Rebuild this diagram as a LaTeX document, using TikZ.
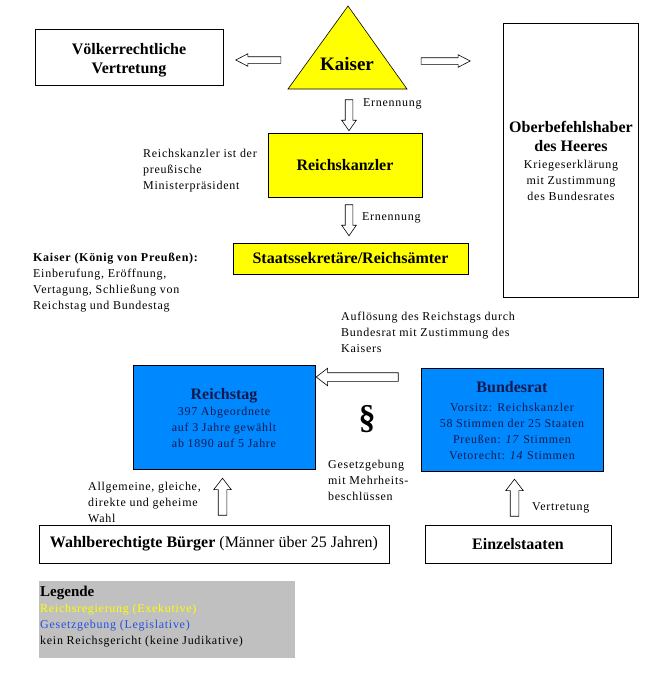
\documentclass[tikz,border=0pt]{standalone}
\usepackage{fontspec}
\setmainfont{Liberation Serif}
\newfontfamily\smf{Liberation Serif}[LetterSpace=6]
\usetikzlibrary{shapes.arrows}
\definecolor{kyellow}{RGB}{255,255,0}
\definecolor{kblue}{RGB}{0,136,255}
\definecolor{knavy}{RGB}{20,25,75}
\definecolor{lblue}{RGB}{40,80,220}
\definecolor{lgray}{RGB}{192,192,192}
\newcommand\ktitle{\rmfamily\bfseries\fontsize{16}{16}\selectfont}
\begin{document}
\begin{tikzpicture}[x=1pt,y=-1pt,
  box/.style={draw, line width=0.9pt, inner sep=0pt},
  ttl/.style={font=\fontsize{16}{19}\selectfont\bfseries, inner sep=0pt},
  txt/.style={font=\fontsize{12}{16}\selectfont\smf, inner sep=0pt, align=left},
  ctxt/.style={font=\fontsize{12}{16}\selectfont\smf, inner sep=0pt, align=center},
  harrow/.style n args={3}{single arrow, draw, fill=white, line width=0.6pt,
    inner xsep=0pt, inner ysep=#1, single arrow head extend=#2, single arrow tip angle=#3}]
\useasboundingbox (0,0) rectangle (654,673);

% Völkerrechtliche Vertretung
\node[box, minimum width=188pt, minimum height=56pt] (vv) at (129,57) {};
\node[ttl, align=center, anchor=north] (vvt) at (129,43.2) {Völkerrechtliche\\Vertretung};

% Kaiser triangle
\draw[fill=kyellow, line width=0.6pt] (288,89) coordinate (kl) -- (348,6) coordinate (ka) -- (407,89) coordinate (kr) -- cycle;
\node[font=\fontsize{19}{19}\selectfont\bfseries, inner sep=0pt, anchor=base] (kaiser) at (347,70) {Kaiser};

% Oberbefehlshaber
\node[box, minimum width=135pt, minimum height=274pt] (ob) at (570.5,160) {};
\node[ctxt, anchor=north] (obt) at (571,121.2) {{\ktitle Oberbefehlshaber}\\[3pt]{\ktitle des Heeres}\\[1pt]Kriegeserklärung\\mit Zustimmung\\des Bundesrates};

% Reichskanzler
\node[box, fill=kyellow, minimum width=154pt, minimum height=64pt, font=\fontsize{16}{16}\selectfont\bfseries] (rk) at (345,165) {Reichskanzler};
\node[txt, anchor=north west] (rkt) at (143,148.8) {Reichskanzler ist der\\preußische\\Ministerpräsident};

% Staatssekretäre
\node[box, fill=kyellow, minimum width=235pt, minimum height=31pt, font=\fontsize{16}{16}\selectfont\bfseries] (ss) at (350.5,258.5) {Staatssekretäre/Reichsämter};

% Ernennung labels
\node[txt, anchor=base west] (ern1) at (363,106) {Ernennung};
\node[txt, anchor=base west] (ern2) at (362,220) {Ernennung};

% Kaiser (König von Preußen)
\node[txt, anchor=north west] (kkp) at (33,252.7) {\textbf{Kaiser (König von Preußen):}\\Einberufung, Eröffnung,\\Vertagung, Schließung von\\Reichstag und Bundestag};

% Auflösung
\node[txt, anchor=north west] (aufl) at (341,311.8) {Auflösung des Reichstags durch\\Bundesrat mit Zustimmung des\\Kaisers};

% Reichstag
\node[box, fill=kblue, minimum width=182pt, minimum height=104pt] (rs) at (224,417) {};
\node[ctxt, anchor=north, text=knavy] (rst) at (224,388.2) {{\ktitle Reichstag}\\397 Abgeordnete\\auf 3 Jahre gewählt\\ab 1890 auf 5 Jahre};

% Bundesrat
\node[box, fill=kblue, minimum width=182pt, minimum height=103pt] (br) at (512,419.5) {};
\node[ctxt, anchor=north, text=knavy] (brt) at (512,381.2) {{\ktitle Bundesrat}\\[3pt]Vorsitz: Reichskanzler\\58 Stimmen der 25 Staaten\\Preußen: \textit{17} Stimmen\\Vetorecht: \textit{14} Stimmen};

% Paragraph
\node[font=\fontsize{34}{34}\selectfont\bfseries, inner sep=0pt] (para) at (367,419) {§};
\node[txt, anchor=north west] (gesetz) at (328,459.8) {Gesetzgebung\\mit Mehrheits-\\beschlüssen};

% Wahl
\node[txt, anchor=north west] (wahl) at (88,481.8) {Allgemeine, gleiche,\\direkte und geheime\\Wahl};
\node[txt, anchor=base west] (vertr) at (532,510) {Vertretung};

% bottom boxes
\node[box, minimum width=350pt, minimum height=38pt, font=\fontsize{16}{16}\selectfont] (wb) at (214,544) {\textbf{Wahlberechtigte Bürger} (Männer über 25 Jahren)};
\node[box, minimum width=186pt, minimum height=38pt, font=\fontsize{16}{16}\selectfont\bfseries] (ez) at (518,544) {Einzelstaaten};

% Legend
\node[fill=lgray, minimum width=256pt, minimum height=77pt, inner sep=0pt] (leg) at (167,619.5) {};
\node[txt, anchor=north west] (legt) at (40,585.9) {{\rmfamily\bfseries\fontsize{15}{16}\selectfont Legende}\\\textcolor{kyellow}{Reichsregierung (Exekutive)}\\\textcolor{lblue}{Gesetzgebung (Legislative)}\\kein Reichsgericht (keine Judikative)};

% hollow arrows
\node[harrow={3pt}{3pt}{55}, minimum height=45pt, rotate=180] (a1) at (261.5,60) {};
\node[harrow={3pt}{3pt}{55}, minimum height=49pt] (a2) at (442.5,61) {};
\node[harrow={3.5pt}{3.5pt}{70}, minimum height=31pt, rotate=-90] (a3) at (349,112.5) {};
\node[harrow={3.5pt}{3.5pt}{70}, minimum height=31pt, rotate=-90] (a4) at (349,217.5) {};
\node[harrow={4pt}{4.5pt}{75}, minimum height=82pt, rotate=180] (a5) at (360,377) {};
\node[harrow={4pt}{4.5pt}{75}, minimum height=37pt, rotate=90] (a6) at (222.5,499.5) {};
\node[harrow={4pt}{4.5pt}{75}, minimum height=37pt, rotate=90] (a7) at (514.5,500.5) {};
\end{tikzpicture}
\end{document}
